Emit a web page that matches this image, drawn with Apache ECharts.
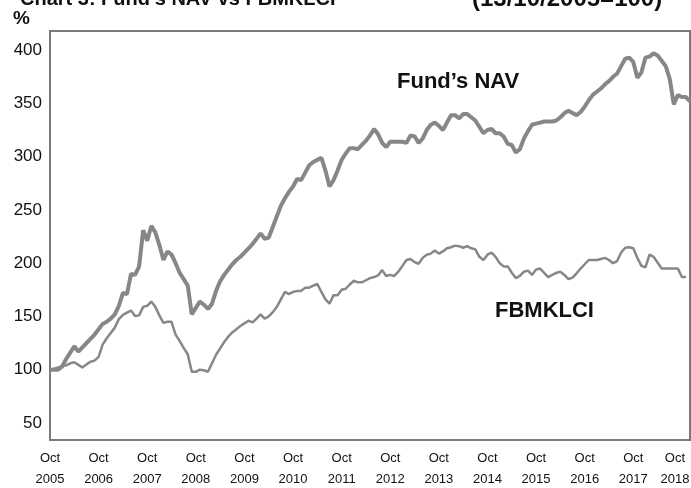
<!DOCTYPE html>
<html>
<head>
<meta charset="utf-8">
<script src="https://cdn.jsdelivr.net/npm/echarts@6/dist/echarts.min.js"></script>
<style>
  html, body { margin: 0; padding: 0; background: #fff; }
  #chart { width: 691px; height: 488px; }
</style>
</head>
<body>
<div id="chart"></div>
<script>
// 月度数据：2005年10月 ~ 2018年12月 (13/10/2005 = 100)
var startYear = 2005, startMonth = 10, monthCount = 159;

// 基金净值
var navValues = [
  100, 100, 100, 103, 110, 116, 122, 117, 121, 125, 129, 133,
  138, 143, 145, 148, 152, 160, 172, 171, 190, 189, 197, 231,
  221, 235, 229, 217, 203, 211, 208, 200, 191, 185, 179, 152,
  158, 164, 161, 157, 162, 174, 183, 189, 194, 199, 203, 206,
  210, 214, 218, 223, 228, 223, 224, 234, 244, 254, 261, 267,
  272, 279, 278, 285, 292, 295, 297, 299, 287, 272, 278, 287,
  297, 303, 308, 308, 307, 311, 315, 320, 326, 321, 313, 309,
  314, 314, 314, 314, 313, 320, 319, 313, 317, 325, 330, 332,
  329, 325, 332, 339, 339, 336, 340, 340, 337, 334, 328, 322,
  325, 326, 322, 322, 319, 312, 311, 304, 307, 317, 324, 330,
  331, 332, 333, 333, 333, 334, 337, 341, 343, 341, 339, 342,
  347, 353, 358, 361, 364, 368, 371, 375, 378, 385, 392, 393,
  389, 374, 379, 393, 394, 397, 395, 390, 385, 373, 349, 358,
  356, 356, 352
];

// 富时马来西亚综合指数
var klciValues = [
  100, 101, 102, 103.5, 104, 106, 107, 104.5, 102, 105, 107.5, 108.5,
  112, 123.5, 129.5, 134.5, 139.5, 147.5, 151.5, 153.5, 155.5, 150.5, 151, 159,
  160, 164, 159, 151, 144, 145, 145, 133, 127, 120.5, 114.5, 98,
  98, 100, 99.5, 98, 106, 114, 120, 126, 131, 135, 138, 141,
  143.5, 146, 144.5, 148, 152, 148, 150, 154, 159, 166, 173, 171,
  173, 174, 174, 177, 177, 179, 180.5, 173, 166, 162, 170, 170,
  175, 176, 180, 183.5, 182, 182, 184, 186, 187, 188.5, 193.5, 188,
  189, 188, 192, 197.5, 203, 204, 201, 199.5, 205, 208, 209, 212,
  209, 211, 214, 215, 216.5, 216, 214.5, 216, 214, 213, 206, 203,
  208, 210, 206, 200, 197, 197, 191, 186, 188, 192, 193, 189,
  194, 195, 191, 187, 189, 191, 192, 189, 185, 186.5, 190.5, 195,
  199, 203, 203, 203, 204, 205, 203, 200, 202, 210, 214.5, 215,
  214, 205, 197.5, 196, 208, 206, 200.5, 195, 195, 195, 195, 195,
  187, 187, null
];

// y轴刻度
var yTicks = [50, 100, 150, 200, 250, 300, 350, 400];

// 月份类目
var months = [];
for (var i = 0; i < monthCount; i++) {
  var m = (startMonth - 1 + i) % 12 + 1;
  var y = startYear + Math.floor((startMonth - 1 + i) / 12);
  months.push(y + '-' + (m < 10 ? '0' + m : m));
}

var lineGrey = '#878787';
var labelFont = 'Liberation Sans Narrow, Liberation Sans, Arial';
var chart = echarts.init(document.getElementById('chart'));

var option = {
  backgroundColor: '#fff',
  animation: false,
  grid: {
    left: 50, right: 1, top: 31, bottom: 48,
    outerBoundsMode: 'none',
    containLabel: false,
    show: true, borderColor: '#7a7a7a', borderWidth: 2
  },
  xAxis: {
    type: 'category',
    data: months,
    boundaryGap: false,
    axisLine: { show: false },
    axisTick: { show: false },
    splitLine: { show: false },
    axisLabel: {
      interval: function (index) { return index % 12 === 0; },
      margin: 8,
      color: '#111',
      fontFamily: labelFont,
      fontSize: 13,
      lineHeight: 21,
      hideOverlap: false,
      formatter: function (val) {
        var yr = val.slice(0, 4);
        if (yr === '2018') return '{last|Oct}\n{last|' + yr + '}';
        return 'Oct\n' + yr;
      },
      rich: {
        last: {
          fontSize: 13, lineHeight: 21, color: '#111',
          fontFamily: labelFont,
          padding: [0, 14, 0, 0]
        }
      }
    }
  },
  yAxis: {
    type: 'value',
    min: 34,
    max: 418,
    axisLine: { show: false },
    axisTick: { show: false },
    splitLine: { show: false },
    axisLabel: {
      customValues: yTicks,
      margin: 8,
      color: '#111',
      fontFamily: 'Liberation Sans, Arial',
      fontSize: 17
    }
  },
  series: [
    {
      name: "Fund's NAV",
      type: 'line',
      data: navValues,
      showSymbol: false,
      lineStyle: { color: lineGrey, width: 4 },
      itemStyle: { color: lineGrey }
    },
    {
      name: 'FBMKLCI',
      type: 'line',
      data: klciValues,
      showSymbol: false,
      connectNulls: false,
      lineStyle: { color: lineGrey, width: 2.5 },
      itemStyle: { color: lineGrey }
    }
  ],
  graphic: [
    {
      type: 'text', left: 20, top: -11,
      style: { text: "Chart 3: Fund's NAV vs FBMKLCI", font: 'bold 20px Liberation Sans, Arial', fill: '#111' }
    },
    {
      type: 'text', left: 472, top: -13,
      style: { text: '(13/10/2005=100)', font: 'bold 24px Liberation Sans, Arial', fill: '#111' }
    },
    {
      type: 'text', left: 13, top: 9,
      style: { text: '%', font: 'bold 19px Liberation Sans, Arial', fill: '#111' }
    },
    {
      type: 'text', left: 397, top: 71,
      style: { text: 'Fund\u2019s NAV', font: 'bold 22px Liberation Sans, Arial', fill: '#111' }
    },
    {
      type: 'text', left: 495, top: 300,
      style: { text: 'FBMKLCI', font: 'bold 22px Liberation Sans, Arial', fill: '#111' }
    }
  ]
};

chart.setOption(option);
</script>
</body>
</html>
